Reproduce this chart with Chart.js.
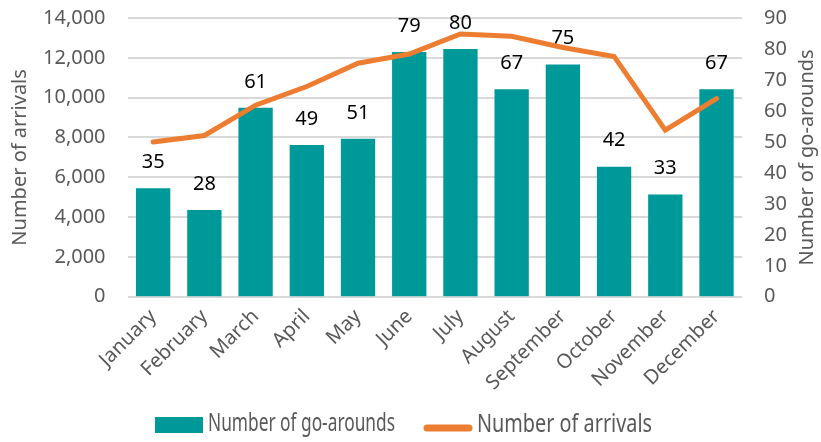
<!DOCTYPE html>
<html>
<head>
<meta charset="utf-8">
<script src="https://cdn.jsdelivr.net/npm/chart.js@4.4.1/dist/chart.umd.min.js"></script>
<style>
  html, body { margin: 0; padding: 0; background: #fff; }
  #wrap { width: 821px; height: 442px; }
</style>
</head>
<body>
<div id="wrap"><canvas id="grafico"></canvas></div>
<script>
const months = ['January', 'February', 'March', 'April', 'May', 'June', 'July', 'August', 'September', 'October', 'November', 'December'];
const goArounds = [35, 28, 61, 49, 51, 79, 80, 67, 75, 42, 33, 67];
const arrivals = [7770, 8100, 9620, 10560, 11730, 12190, 13200, 13080, 12520, 12070, 8370, 9950];

const gris = '#595959';
const verde = '#009999';
const naranja = '#ED7D31';
const fuente = "'Noto Sans', sans-serif";
const invisible = 'rgba(0,0,0,0)';

// texto estrecho (la leyenda original usa una letra condensada)
function textoEstrecho(ctx, texto, x, y, ancho) {
  const w = ctx.measureText(texto).width;
  ctx.save();
  ctx.translate(x, y);
  ctx.scale(ancho / w, 1);
  ctx.fillText(texto, 0, 0);
  ctx.restore();
}

// etiquetas encima de las barras, titulo derecho y leyenda
const extras = {
  id: 'extras',
  afterDatasetDraw(chart, args) {
    if (args.index !== 0) return;
    const ctx = chart.ctx;
    ctx.save();
    ctx.fillStyle = '#000';
    ctx.font = '20px ' + fuente;
    ctx.textAlign = 'center';
    ctx.textBaseline = 'middle';
    args.meta.data.forEach((bar, i) => {
      ctx.fillText(goArounds[i], bar.x, bar.y - 26);
    });
    ctx.restore();
  },
  afterDraw(chart) {
    const ctx = chart.ctx;
    const area = chart.chartArea;
    ctx.save();
    ctx.translate(chart.width - 14, (area.top + area.bottom) / 2);
    ctx.rotate(-Math.PI / 2);
    ctx.fillStyle = gris;
    ctx.font = '20px ' + fuente;
    ctx.textAlign = 'center';
    ctx.textBaseline = 'middle';
    ctx.fillText('Number of go-arounds', 0, 0);
    ctx.restore();

    // leyenda
    ctx.save();
    ctx.font = '25px ' + fuente;
    ctx.fillStyle = verde;
    ctx.fillRect(155, 417, 48, 16);
    ctx.strokeStyle = naranja;
    ctx.lineWidth = 7;
    ctx.lineCap = 'round';
    ctx.beginPath();
    ctx.moveTo(427, 428);
    ctx.lineTo(469, 428);
    ctx.stroke();
    ctx.fillStyle = gris;
    ctx.textBaseline = 'alphabetic';
    textoEstrecho(ctx, chart.data.datasets[0].label, 208, 431, 187);
    textoEstrecho(ctx, chart.data.datasets[1].label, 477, 432, 175);
    ctx.restore();
  }
};

const ctx = document.getElementById('grafico').getContext('2d');
const grafico = new Chart(ctx, {
  type: 'bar',
  data: {
    labels: months,
    datasets: [{
      type: 'bar',
      label: 'Number of go-arounds',
      data: goArounds,
      backgroundColor: verde,
      yAxisID: 'y1',
      order: 1,
      barPercentage: 1,
      categoryPercentage: 0.67
    }, {
      type: 'line',
      label: 'Number of arrivals',
      data: arrivals,
      borderColor: naranja,
      backgroundColor: naranja,
      borderWidth: 5,
      pointRadius: 0,
      tension: 0,
      yAxisID: 'y',
      order: 0,
      borderCapStyle: 'round'
    }]
  },
  options: {
    responsive: true,
    maintainAspectRatio: false,
    animation: false,
    layout: { padding: { left: 8, right: 28, top: 0, bottom: 39 } },
    plugins: {
      legend: { display: false },
      tooltip: { enabled: false }
    },
    scales: {
      x: {
        grid: { display: false, drawTicks: false },
        border: { display: false },
        ticks: {
          color: gris,
          font: { family: fuente, size: 20 },
          maxRotation: 45,
          minRotation: 45,
          padding: 8
        }
      },
      y: {
        position: 'left',
        min: 0,
        max: 14000,
        grid: { color: '#d9d9d9', lineWidth: 2, drawTicks: true, tickLength: 16, tickColor: invisible },
        border: { display: false },
        ticks: {
          stepSize: 2000,
          color: gris,
          font: { family: fuente, size: 20 },
          padding: 6,
          callback: v => v.toLocaleString('en-US')
        },
        title: {
          display: true,
          text: 'Number of arrivals',
          color: gris,
          font: { family: fuente, size: 20 },
          padding: { top: 0, bottom: 5 }
        }
      },
      y1: {
        position: 'right',
        min: 0,
        max: 90,
        grid: { color: invisible, drawOnChartArea: false, drawTicks: true, tickLength: 16, tickColor: invisible },
        border: { display: false },
        ticks: {
          stepSize: 10,
          color: gris,
          font: { family: fuente, size: 20 },
          padding: 6
        }
      }
    }
  },
  plugins: [extras]
});
</script>
</body>
</html>
